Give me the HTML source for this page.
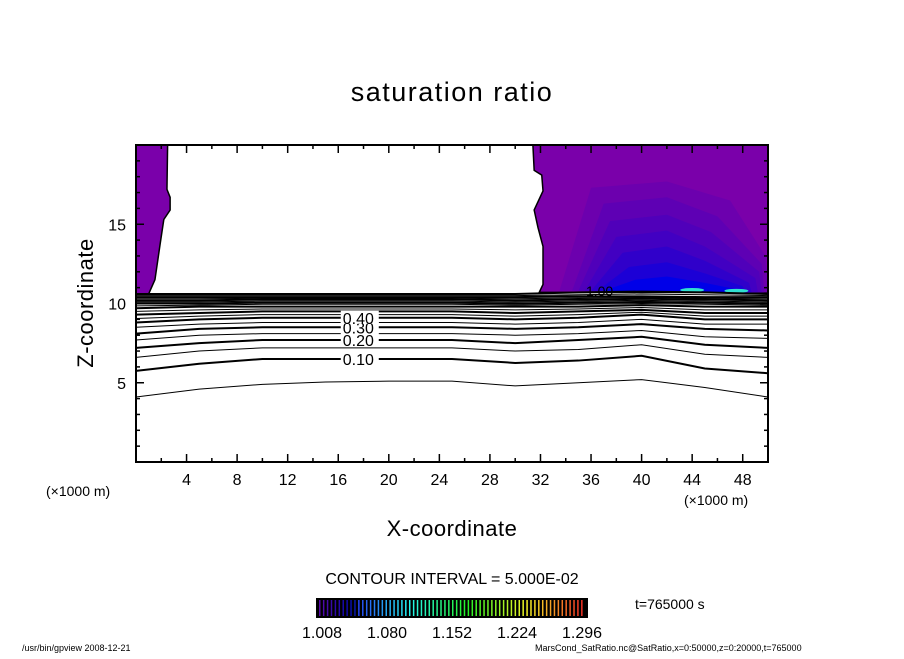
<!DOCTYPE html>
<html><head><meta charset="utf-8"><style>
body{margin:0;background:#fff;width:904px;height:654px;overflow:hidden;font-family:"Liberation Sans",sans-serif}
</style></head><body>
<svg id="chart" width="904" height="654" viewBox="0 0 904 654" xmlns="http://www.w3.org/2000/svg" font-family="Liberation Sans, sans-serif">
<text x="452" y="101" font-size="27" text-anchor="middle" letter-spacing="1.5">saturation ratio</text>
<g id="plot"></g>
<text transform="translate(93,303) rotate(-90)" font-size="22" text-anchor="middle" letter-spacing="0.5">Z-coordinate</text>
<text x="452" y="536" font-size="22" text-anchor="middle" letter-spacing="0.5">X-coordinate</text>
<text x="46" y="496" font-size="14">(×1000 m)</text>
<text x="684" y="505" font-size="14">(×1000 m)</text>
<text x="452" y="584" font-size="16" text-anchor="middle">CONTOUR INTERVAL = 5.000E-02</text>
<g id="cbar"></g>
<text x="635" y="609" font-size="14">t=765000 s</text>
<text x="22" y="651" font-size="9">/usr/bin/gpview   2008-12-21</text>
<text x="535" y="651" font-size="9">MarsCond_SatRatio.nc@SatRatio,x=0:50000,z=0:20000,t=765000</text>
</svg>
<script>
const xs=[0,5,10,15,20,25,30,35,40,45,50];
const levels=[0.05,0.10,0.15,0.20,0.25,0.30,0.35,0.40,0.45,0.50,0.55,0.60,0.65,0.70,0.75,0.80,0.85,0.90,0.95,1.00];
const c005=[4.1,4.6,4.9,5.05,5.1,5.1,4.8,5.0,5.2,4.7,4.1];
const c010=[5.75,6.2,6.5,6.5,6.5,6.5,6.25,6.4,6.7,5.9,5.6];
const c015=[6.6,7.0,7.2,7.2,7.2,7.2,7.0,7.1,7.4,6.8,6.6];
const c020=[7.2,7.5,7.7,7.7,7.7,7.7,7.5,7.7,7.9,7.4,7.2];
const c025=[7.7,8.0,8.1,8.1,8.1,8.1,8.0,8.1,8.3,7.9,7.8];
const c030=[8.1,8.4,8.5,8.5,8.5,8.5,8.4,8.5,8.7,8.4,8.3];
const c035=[8.5,8.7,8.8,8.8,8.8,8.8,8.7,8.8,9.0,8.7,8.7];
const c040=[8.8,9.0,9.1,9.1,9.1,9.1,9.0,9.1,9.3,9.0,9.0];
const c045=[9.05,9.2,9.3,9.3,9.3,9.3,9.2,9.3,9.45,9.2,9.2];
const c050=[9.3,9.4,9.5,9.5,9.5,9.5,9.4,9.5,9.6,9.4,9.4];
const c055=[9.5,9.6,9.65,9.65,9.65,9.65,9.6,9.65,9.75,9.6,9.6];
const c060=[9.7,9.8,9.8,9.8,9.8,9.8,9.8,9.8,9.9,9.8,9.8];
const c065=[9.85,9.9,9.95,9.95,9.95,9.95,9.9,9.95,10.0,9.95,9.9];
const c070=[10.0,10.0,10.05,10.05,10.05,10.05,10.0,10.05,10.1,10.05,10.0];
const c075=[10.1,10.1,10.15,10.15,10.15,10.15,10.1,10.15,10.2,10.15,10.1];
const c080=[10.2,10.2,10.25,10.25,10.25,10.25,10.2,10.25,10.3,10.25,10.2];
const c085=[10.3,10.3,10.33,10.33,10.33,10.33,10.3,10.35,10.38,10.33,10.3];
const c090=[10.4,10.4,10.4,10.4,10.4,10.4,10.4,10.45,10.45,10.4,10.4];
const c095=[10.5,10.5,10.5,10.5,10.5,10.5,10.5,10.55,10.6,10.55,10.5];
const c100=[10.6,10.6,10.6,10.6,10.6,10.6,10.6,10.7,10.75,10.7,10.6];
const contours=[c005,c010,c015,c020,c025,c030,c035,c040,c045,c050,c055,c060,c065,c070,c075,c080,c085,c090,c095,c100];
const xTicks=[4,8,12,16,20,24,28,32,36,40,44,48];
const yTicks=[5,10,15];
const cbarLabels=["1.008","1.080","1.152","1.224","1.296"];
const NS="http://www.w3.org/2000/svg";
const L=136,R=768,T=145,B=462;
const X=v=>L+(v/50)*(R-L);
const Y=v=>B-(v/20)*(B-T);
function mk(tag,attrs,parent){const e=document.createElementNS(NS,tag);for(const k in attrs)e.setAttribute(k,attrs[k]);parent.appendChild(e);return e;}
const plot=document.getElementById('plot');
let lp=mk('polygon',{points:[[0,20],[2.5,20],[2.45,17.2],[2.7,16.7],[2.7,15.9],[2.2,15.3],[1.9,13.7],[1.5,11.5],[1.0,10.6],[0,10.6]].map(p=>X(p[0])+','+Y(p[1])).join(' '),fill:'#7a00aa',stroke:'#000','stroke-width':1.5},plot);


let rp=mk('polygon',{points:[[31.4,20],[31.5,18.4],[32.1,18.1],[32.2,17.1],[31.5,15.9],[31.8,14.8],[32.2,13.6],[32.2,11.2],[31.9,10.7],[50,10.7],[50,20]].map(p=>X(p[0])+','+Y(p[1])).join(' '),fill:'#7a00aa',stroke:'#000','stroke-width':1.5},plot);


const bands=[['#6c00ae',[33.5,10.8],[36,17.3],[42,17.7],[47,16.5],[49.8,13]],['#5e00b4',[34.5,10.8],[37,16.3],[42,16.7],[46,15.5],[49.5,12.5]],['#5000ba',[35,10.8],[37.5,15.2],[42,15.6],[45.5,14.5],[49.3,12]],['#4200c2',[35.5,10.8],[38,14.2],[42,14.6],[45,13.6],[49,11.6]],['#3000ca',[36,10.8],[38.5,13.2],[42,13.6],[45,12.7],[48.5,11.3]],['#1c00d6',[36.5,10.8],[39,12.3],[42,12.6],[45,11.9],[48,11.1]],['#0000e8',[37,10.8],[39.5,11.5],[42,11.7],[45,11.3],[47.5,10.9]]];
bands.forEach((b,i)=>{const pts=b.slice(1);const p=mk('polygon',{points:pts.concat([[pts[pts.length-1][0]+0.2,10.7]]).map(q=>X(q[0])+','+Y(q[1])).join(' '),fill:b[0]},plot);

});
[[44,10.85],[47.5,10.8]].forEach(c=>{const e=mk('ellipse',{cx:X(c[0]),cy:Y(c[1]),rx:12,ry:2,fill:'#30e0d0'},plot);

});
contours.forEach((c,i)=>{const thick=Math.round(levels[i]*100)%10===0;
const p=mk('polyline',{points:c.map((z,j)=>X(xs[j])+','+Y(z)).join(' '),fill:'none',stroke:'#000','stroke-width':thick?2:1},plot);

});
[[1,'0.10'],[3,'0.20'],[5,'0.30'],[7,'0.40']].forEach(([i,t])=>{const z=contours[i][3]*0.3+contours[i][4]*0.7;
mk('rect',{x:X(16.2),y:Y(z)-7,width:38,height:13,fill:'#fff'},plot);
const e=mk('text',{x:X(16.2)+2,y:Y(z)+6,'font-size':16},plot);e.textContent=t;

});
const l1=mk('text',{x:X(35.6),y:Y(10.65)+3,'font-size':14},plot);l1.textContent='1.00';


const fr=mk('rect',{x:L,y:T,width:R-L,height:B-T,fill:'none',stroke:'#000','stroke-width':2},plot);


for(let v=2;v<50;v+=2){const big=v%4===0;
mk('line',{x1:X(v),x2:X(v),y1:B,y2:B-(big?8:4),stroke:'#000','stroke-width':1.5},plot);
mk('line',{x1:X(v),x2:X(v),y1:T,y2:T+(big?8:4),stroke:'#000','stroke-width':1.5},plot);}
for(let v=1;v<20;v++){const big=v%5===0;
mk('line',{x1:L,x2:L+(big?8:4),y1:Y(v),y2:Y(v),stroke:'#000','stroke-width':1.5},plot);
mk('line',{x1:R,x2:R-(big?8:4),y1:Y(v),y2:Y(v),stroke:'#000','stroke-width':1.5},plot);}
xTicks.forEach(v=>{const t=mk('text',{x:X(v),y:B+23,'font-size':16,'text-anchor':'middle'},plot);t.textContent=v;

});
yTicks.forEach(v=>{const t=mk('text',{x:L-10,y:Y(v)+6,'font-size':16,'text-anchor':'end'},plot);t.textContent=v;

});
const cb=document.getElementById('cbar');
const cx0=316,cx1=588,cy0=598,cy1=618;
mk('rect',{x:cx0,y:cy0,width:cx1-cx0,height:cy1-cy0,fill:'#000'},cb);
const n=68;
for(let i=0;i<n;i++){const h=270-i*(270/n);const s=mk('rect',{x:cx0+3+i*(cx1-cx0-6)/n,y:cy0+2,width:1.5,height:cy1-cy0-4,fill:'hsl('+(h<0?h+360:h)+',90%,'+(i<10?35:55)+'%)'},cb);

}
cbarLabels.forEach((t,i)=>{const e=mk('text',{x:302+i*65,y:638,'font-size':16},cb);e.textContent=t;

});
</script>
</body></html>
